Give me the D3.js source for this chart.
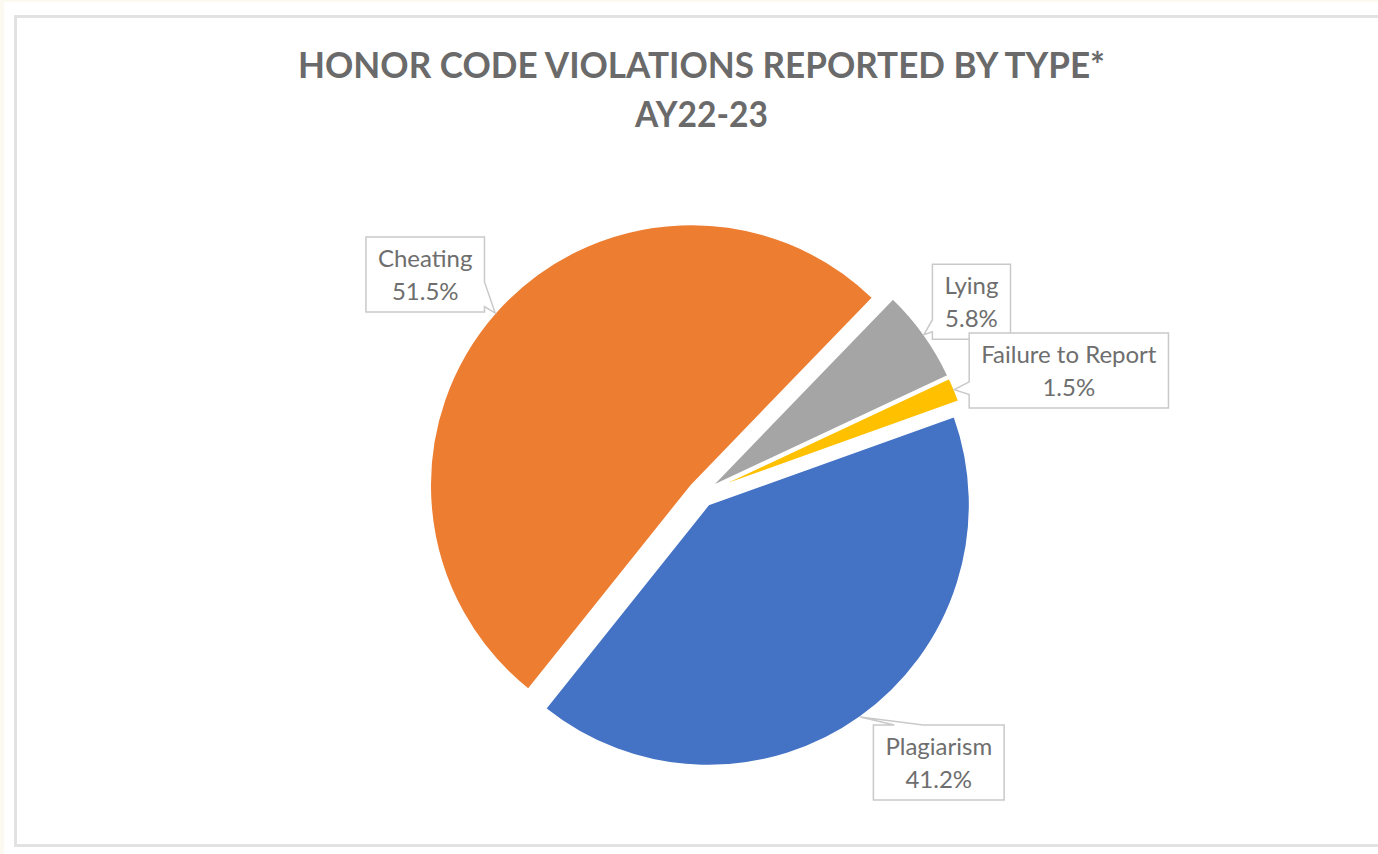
<!DOCTYPE html>
<html>
<head>
<meta charset="utf-8">
<script src="https://cdn.jsdelivr.net/npm/d3@7"></script>
<style>
  html, body { margin: 0; padding: 0; background: #fcf9f0; }
  svg { display: block; }
</style>
</head>
<body>
<div id="chart"></div>
<script>
// chart data
const categories = ["Plagiarism", "Cheating", "Lying", "Failure to Report"];
const shares = [41.2, 51.5, 5.8, 1.5];
const sliceColors = ["#4472C4", "#ED7D31", "#A5A5A5", "#FFC000"];
const titleLines = ["HONOR CODE VIOLATIONS REPORTED BY TYPE*", "AY22-23"];

function main() {
    const width = 1378, height = 854;
    const cx = 701, cy = 494, radius = 261, explode = 13;
    const startAngle = 70.3 * Math.PI / 180;

    // callout placement: box centre offset from the pointer tip, and where the wedge sits
    const callouts = {
        "Plagiarism": {dx: 78.5, dy: 45.5, edge: "top", from: 0.16, to: 0.38},
        "Cheating": {dx: -70, dy: -38.7, edge: "right", from: 0.6, to: 0.93},
        "Lying": {dx: 47.5, dy: -33, edge: "left", from: 0.74, to: 0.9},
        "Failure to Report": {dx: 114.5, dy: -19, edge: "left", from: 0.65, to: 0.82}
    };

    const svg = d3.select("#chart")
        .append("svg")
        .attr("width", width)
        .attr("height", height);

    svg.append("rect")
        .attr("x", 4).attr("y", 2)
        .attr("width", width).attr("height", height)
        .attr("fill", "#ffffff");

    // chart area border
    svg.append("rect")
        .attr("x", 15.5).attr("y", 16.5)
        .attr("width", width).attr("height", 829)
        .attr("fill", "none")
        .attr("stroke", "#e2e2e2")
        .attr("stroke-width", 3);

    // title
    svg.append("g")
        .selectAll("text")
        .data(titleLines)
        .join("text")
        .attr("x", 701.5)
        .attr("y", (d, i) => 77.5 + i * 49.2)
        .attr("text-anchor", "middle")
        .attr("font-family", "Lato, 'Open Sans', sans-serif")
        .attr("font-weight", "bold")
        .attr("font-size", "35.5px")
        .attr("fill", "#6a6a6a")
        .attr("textLength", (d, i) => i === 0 ? 807 : 133)
        .attr("lengthAdjust", "spacingAndGlyphs")
        .text(d => d);

    const pie = d3.pie()
        .sort(null)
        .value(d => d)
        .startAngle(startAngle)
        .endAngle(startAngle + 2 * Math.PI);

    const arcs = pie(shares);
    const arc = d3.arc().innerRadius(0).outerRadius(radius);

    const offset = a => {
        const mid = (a.startAngle + a.endAngle) / 2;
        return [Math.sin(mid) * explode, -Math.cos(mid) * explode];
    };

    const slices = svg.append("g")
        .attr("transform", `translate(${cx},${cy})`);

    slices.selectAll("path")
        .data(arcs)
        .join("path")
        .attr("transform", d => `translate(${offset(d)})`)
        .attr("d", arc)
        .attr("fill", (d, i) => sliceColors[i])
        .attr("stroke", "#ffffff")
        .attr("stroke-width", 1.5);

    // callout labels
    const fmt = d3.format(".1f");
    const labels = svg.append("g");

    arcs.forEach((a, i) => {
        const name = categories[i];
        const c = callouts[name];
        const mid = (a.startAngle + a.endAngle) / 2;
        const [ox, oy] = offset(a);
        const tipX = cx + ox + Math.sin(mid) * radius;
        const tipY = cy + oy - Math.cos(mid) * radius;

        const g = labels.append("g");
        const box = g.append("path");

        const lines = [name, fmt(shares[i]) + "%"];
        const txt = g.selectAll("text")
            .data(lines)
            .join("text")
            .attr("text-anchor", "middle")
            .attr("font-family", "Lato, 'Open Sans', sans-serif")
            .attr("font-size", "24px")
            .attr("fill", "#6e6e6e")
            .text(d => d);

        const textW = d3.max(txt.nodes(), n => n.getComputedTextLength());
        const bw = textW + 24, bh = 75;
        const bx = tipX + c.dx - bw / 2, by = tipY + c.dy - bh / 2;

        txt.attr("x", bx + bw / 2)
            .attr("y", (d, j) => by + 30 + j * 33);

        // box outline with the pointer wedge on one edge
        const p = d3.path();
        p.moveTo(bx, by);
        if (c.edge === "top") {
            p.lineTo(bx + bw * c.from, by);
            p.lineTo(tipX, tipY);
            p.lineTo(bx + bw * c.to, by);
        }
        p.lineTo(bx + bw, by);
        if (c.edge === "right") {
            p.lineTo(bx + bw, by + bh * c.from);
            p.lineTo(tipX, tipY);
            p.lineTo(bx + bw, by + bh * c.to);
        }
        p.lineTo(bx + bw, by + bh);
        p.lineTo(bx, by + bh);
        if (c.edge === "left") {
            p.lineTo(bx, by + bh * c.to);
            p.lineTo(tipX, tipY);
            p.lineTo(bx, by + bh * c.from);
        }
        p.closePath();

        box.attr("d", p.toString())
            .attr("fill", "#ffffff")
            .attr("stroke", "#c9c9c9")
            .attr("stroke-width", 1.5)
            .attr("stroke-linejoin", "miter");
    });
}

main()
</script>
</body>
</html>
